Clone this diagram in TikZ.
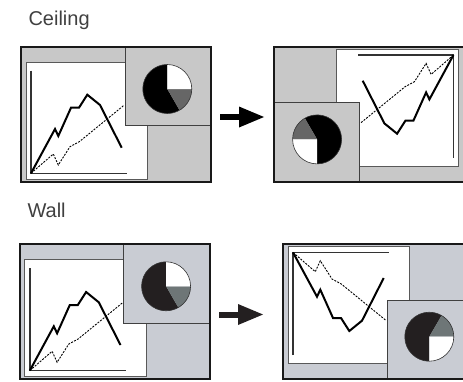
\documentclass[tikz,border=0pt]{standalone}
\usepackage{fontspec}
\setmainfont{Liberation Sans}
\usepackage{tikz}
\usetikzlibrary{arrows.meta}
\definecolor{ceilgray}{HTML}{C8C8C8}
\definecolor{wallgray}{HTML}{C9CCD3}
\definecolor{ceilslice}{HTML}{666666}
\definecolor{wallslice}{HTML}{6E7677}
\definecolor{wallblack}{HTML}{231F20}

% one projector panel, drawn in its own frame (190 x 135, y down)
% #1 background, #2 grey slice, #3 dark slice
\newcommand{\projpanel}[3]{%
  \fill[#1] (0,0) rectangle (190,135);
  \filldraw[screen] (5.3,15.6) rectangle (127,132.3);
  \draw[axis] (10.3,24) -- (10.3,126.6) -- (106,126.6);
  \draw[dotline] (10.3,126.6) -- (32.6,107.3) -- (37.6,118.3) -- (49.3,100) -- (58.6,95) -- (103.6,58.3);
  \draw[graphline] (10.3,126.6) -- (34.3,82.3) -- (37.6,89.3) -- (50.3,61) -- (58.3,61) -- (66.6,48) -- (79.3,58.3) -- (101,101);
  \filldraw[piebox, fill=#1] (104.3,0) rectangle (190,79);
  \fill[#3] (146.6,42.3) -- ++(60:24.5) arc[start angle=60, end angle=270, radius=24.5] -- cycle;
  \fill[#2] (146.6,42.3) -- ++(0:24.5) arc[start angle=0, end angle=60, radius=24.5] -- cycle;
  \fill[white] (146.6,42.3) -- ++(-90:24.5) arc[start angle=-90, end angle=0, radius=24.5] -- cycle;
  \draw[pieline] (146.6,42.3) circle[radius=24.5];
  \draw[frameline] (0,0) rectangle (190,135);
}

\begin{document}
\begin{tikzpicture}[x=1pt, y=-1pt,
    screen/.style={fill=white, draw=black!65, line width=0.8pt},
    axis/.style={draw=black!80, line width=1.5pt},
    graphline/.style={black, line width=2pt, line join=miter},
    dotline/.style={black, line width=0.9pt, dash pattern=on 2pt off 1.3pt},
    piebox/.style={draw=black!75, line width=1pt},
    pieline/.style={draw=black!80, line width=0.6pt},
    frameline/.style={draw=black!90, line width=2pt},
    label/.style={anchor=base west, text=black!75, font=\fontsize{20}{24}\selectfont},
    bigarrow/.style={-{Triangle[length=26pt, width=19pt]}, line width=6pt, black}
]
\clip (0,0) rectangle (463,381);

% Ceiling (top)
\node[label] (ceil) at (25,25) {Ceiling};
\begin{scope}[shift={(20.7,46.7)}]
  \projpanel{ceilgray}{ceilslice}{black}
\end{scope}
\begin{scope}[shift={(463.7,181.7)}, rotate=180]
  \projpanel{ceilgray}{ceilslice}{black}
\end{scope}
\coordinate (c1) at (220,117);
\coordinate (c2) at (265,117);
\draw[bigarrow] (c1) -- (c2);

% Wall (bottom)
\node[label] (wall) at (24,217) {Wall};
\begin{scope}[shift={(19.5,244)}]
  \projpanel{wallgray}{wallslice}{wallblack}
\end{scope}
\begin{scope}[shift={(282.7,379)}, yscale=-1]
  \projpanel{wallgray}{wallslice}{wallblack}
\end{scope}
\coordinate (w1) at (219,314.5);
\coordinate (w2) at (264,314.5);
\draw[bigarrow, wallblack] (w1) -- (w2);

\end{tikzpicture}
\end{document}
